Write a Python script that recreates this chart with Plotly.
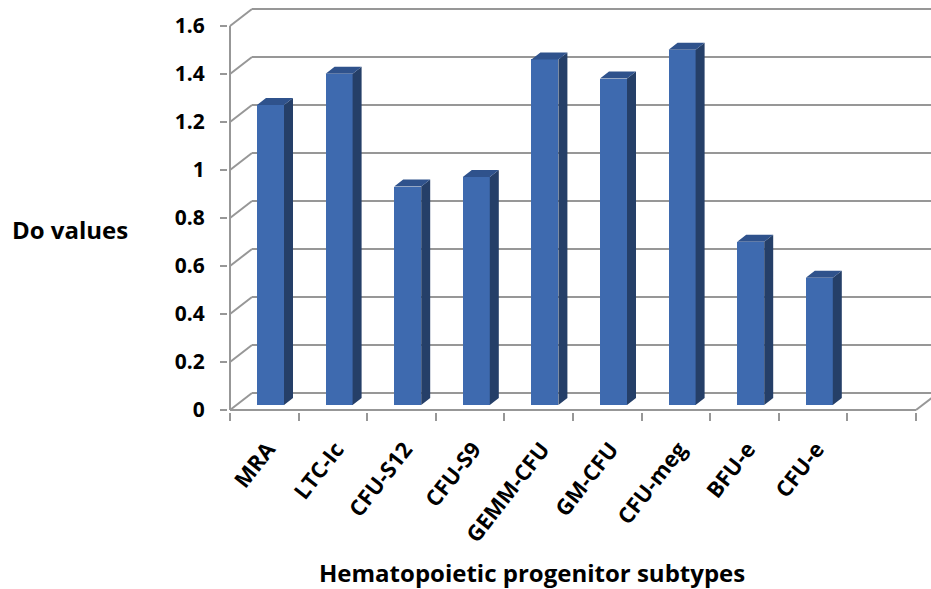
import plotly.graph_objects as go

# ---- data ----
categories = ["MRA", "LTC-Ic", "CFU-S12", "CFU-S9", "GEMM-CFU", "GM-CFU", "CFU-meg", "BFU-e", "CFU-e"]
do_values = [1.25, 1.38, 0.91, 0.95, 1.44, 1.36, 1.48, 0.68, 0.53]
y_ticks = [0, 0.2, 0.4, 0.6, 0.8, 1.0, 1.2, 1.4, 1.6]
y_tick_labels = ["0", "0.2", "0.4", "0.6", "0.8", "1", "1.2", "1.4", "1.6"]
n_slots = 10  # category slots on the floor (last one empty)

# ---- styling / pseudo-3D geometry (in axis units) ----
PX_X = 68.6   # pixels per category slot
PX_Y = 240.0  # pixels per y unit
WALL_DX, WALL_DY = 22 / PX_X, 17 / PX_Y
BAR_DX, BAR_DY = 9 / PX_X, 7 / PX_Y
BAR_OFF, BAR_W = 27 / PX_X, 27 / PX_X
BAR_BASE = 5 / PX_Y
GRID = "#979797"
FRONT, SIDE, TOP = "#3E6AAF", "#253F68", "#2F528C"
FONT = "Open Sans"

W, H = 931, 589
ML, MB = 228, 177
plot_w, plot_h = W - ML, H - MB
x_lo = -2 / PX_X
x_hi = x_lo + plot_w / PX_X
y_lo = -2 / PX_Y
y_hi = y_lo + plot_h / PX_Y

fig = go.Figure()

# back wall gridlines with diagonal connectors, drawn beneath the bars
shapes = []
line = dict(color=GRID, width=2)
for v in y_ticks:
    shapes.append(dict(type="line", xref="x", yref="y", x0=0, y0=v, x1=WALL_DX, y1=v + WALL_DY,
                       line=line, layer="below"))
    shapes.append(dict(type="line", xref="x", yref="y", x0=WALL_DX, y0=v + WALL_DY, x1=x_hi + 1,
                       y1=v + WALL_DY, line=line, layer="below"))
# floor front edge, right edge, front vertical axis
shapes.append(dict(type="line", xref="x", yref="y", x0=0, y0=0, x1=n_slots, y1=0, line=line, layer="below"))
shapes.append(dict(type="line", xref="x", yref="y", x0=n_slots, y0=0, x1=n_slots + WALL_DX, y1=WALL_DY,
                   line=line, layer="below"))
shapes.append(dict(type="line", xref="x", yref="y", x0=0, y0=0, x1=0, y1=y_ticks[-1], line=line, layer="below"))

# front faces of the bars
xc = [i + BAR_OFF + BAR_W / 2 for i in range(len(categories))]
fig.add_trace(go.Bar(x=xc, y=do_values, base=BAR_BASE, width=BAR_W,
                     marker=dict(color=FRONT, line=dict(width=0)), showlegend=False,
                     hovertext=categories))

# side and top faces
sx, sy, tx, ty = [], [], [], []
for i, v in enumerate(do_values):
    xl = i + BAR_OFF
    xr = xl + BAR_W
    yb = BAR_BASE
    yt = BAR_BASE + v
    sx += [xr, xr, xr + BAR_DX, xr + BAR_DX, xr, None]
    sy += [yb, yt, yt + BAR_DY, yb + BAR_DY, yb, None]
    tx += [xl, xr, xr + BAR_DX, xl + BAR_DX, xl, None]
    ty += [yt, yt, yt + BAR_DY, yt + BAR_DY, yt, None]
fig.add_trace(go.Scatter(x=sx, y=sy, mode="lines", fill="toself", fillcolor=SIDE,
                         line=dict(width=0, color=SIDE), hoverinfo="skip", showlegend=False))
fig.add_trace(go.Scatter(x=tx, y=ty, mode="lines", fill="toself", fillcolor=TOP, xaxis="x2",
                         line=dict(width=0, color=TOP), hoverinfo="skip", showlegend=False))

annotations = [
    dict(x=(10 - ML) / plot_w, y=(plot_h - 229) / plot_h, xref="paper", yref="paper",
         text="Do values", showarrow=False, xanchor="left", yanchor="middle",
         font=dict(family=FONT, size=24, color="black", weight="bold")),
    dict(x=(532 - ML) / plot_w, y=(plot_h - 572) / plot_h, xref="paper", yref="paper",
         text="Hematopoietic progenitor subtypes", showarrow=False,
         xanchor="center", yanchor="middle",
         font=dict(family=FONT, size=24, color="black", weight="bold")),
]

fig.update_layout(
    width=W, height=H, margin=dict(l=ML, r=0, t=0, b=MB),
    paper_bgcolor="white", plot_bgcolor="white",
    bargap=0, showlegend=False, annotations=annotations, shapes=shapes,
    xaxis=dict(range=[x_lo, x_hi], tickvals=list(range(n_slots + 1)), ticks="outside",
               ticklen=8, tickwidth=2, tickcolor=GRID, showticklabels=False,
               showgrid=False, zeroline=False, showline=False, fixedrange=True),
    xaxis2=dict(range=[x_lo, x_hi], overlaying="x", anchor="y", side="bottom",
                tickvals=[i + 0.55 for i in range(len(categories))], ticktext=categories,
                tickangle=-52, ticks="", ticklabelstandoff=19,
                tickfont=dict(family=FONT, size=22, color="black", weight="bold"),
                showgrid=False, zeroline=False, showline=False, fixedrange=True),
    yaxis=dict(range=[y_lo, y_hi], tickvals=y_ticks, ticktext=y_tick_labels, ticks="outside",
               ticklen=7, tickwidth=2, tickcolor=GRID, ticklabelstandoff=11,
               tickfont=dict(family=FONT, size=21, color="black", weight="bold"),
               showgrid=False, zeroline=False, showline=False, fixedrange=True),
)

fig.write_html("out.html")
